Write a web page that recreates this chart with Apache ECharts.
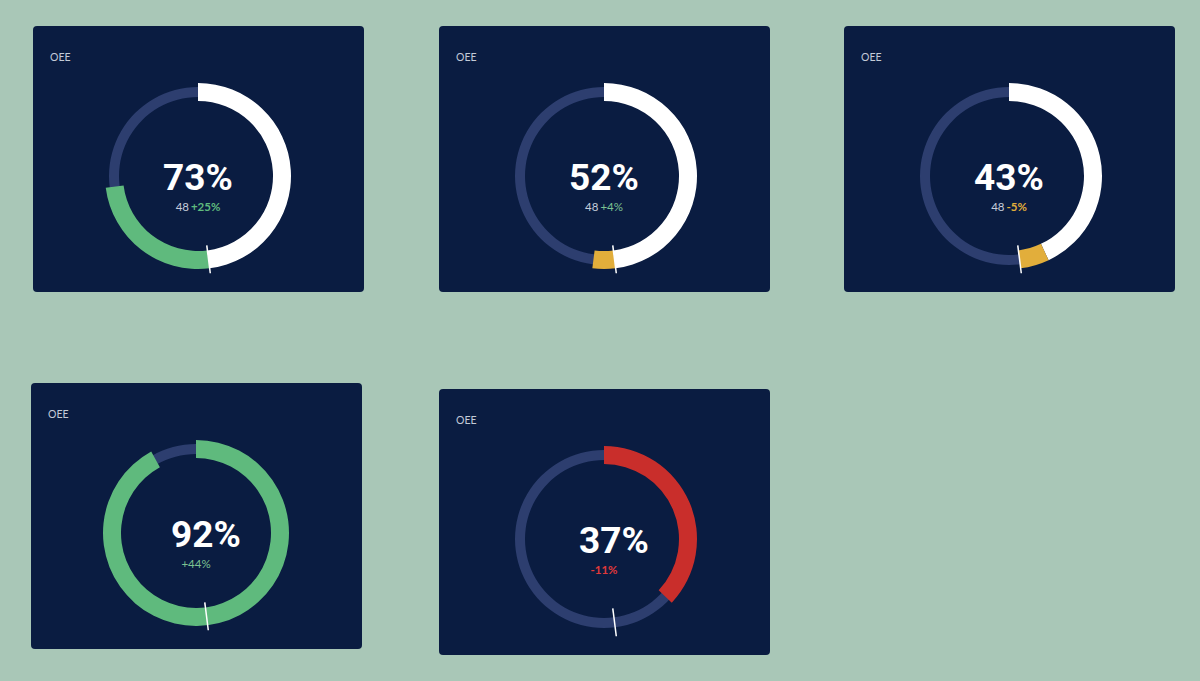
<!DOCTYPE html>
<html>
<head>
<meta charset="utf-8">
<title>OEE</title>
<script src="https://cdn.jsdelivr.net/npm/echarts@6/dist/echarts.min.js"></script>
<style>
  html, body { margin: 0; padding: 0; width: 1200px; height: 681px; overflow: hidden; background: #a9c7b7; }
  .card { position: absolute; width: 331px; height: 266px; background: #0a1c41; border-radius: 4px; overflow: hidden; }
</style>
</head>
<body>
<div class="card" id="card0" style="left:33px;top:26px"></div>
<div class="card" id="card1" style="left:439px;top:26px"></div>
<div class="card" id="card2" style="left:844px;top:26px"></div>
<div class="card" id="card3" style="left:31px;top:383px"></div>
<div class="card" id="card4" style="left:439px;top:389px"></div>
<script>
// data
var titles = ['OEE', 'OEE', 'OEE', 'OEE', 'OEE'];
var oee = [73, 52, 43, 92, 37];
var baseline = [48, 48, 48, 48, 48];
var arcValues = [[48, 25], [48, 4], [43, 5], [92], [37]];
var changeText = ['+25%', '+4%', '-5%', '+44%', '-11%'];
var showBase = [true, true, true, false, false];

// styles
var GREEN = '#5fba7d', YELLOW = '#e2ae3b', RED = '#c92e2b', TRACK = '#2d3e6f';
var arcColors = [['#ffffff', GREEN], ['#ffffff', YELLOW], ['#ffffff', YELLOW], [GREEN], [RED]];
var changeColor = [GREEN, '#7cc292', YELLOW, '#7cc292', '#e0393a'];
var changeWeight = ['bold', 'normal', 'bold', 'normal', 'bold'];
var valueShift = [0, 0, 0, 10, 10];

oee.forEach(function (v, i) {
    var chart = echarts.init(document.getElementById('card' + i), null, { renderer: 'svg' });
    var cx = 165, cy = 150;

    var used = 0;
    var slices = arcValues[i].map(function (x, k) {
        used += x;
        return { value: x, itemStyle: { color: arcColors[i][k] } };
    });
    slices.push({ value: 100 - used, itemStyle: { color: 'transparent' } });

    var sub = (showBase[i] ? '{b|' + baseline[i] + '}' : '') + '{c|' + changeText[i] + '}';

    chart.setOption({
        animation: false,
        polar: { center: [cx, cy], radius: 100 },
        angleAxis: { type: 'value', min: 0, max: 100, startAngle: 90, clockwise: true, show: false },
        radiusAxis: { type: 'value', min: 0, max: 100, show: false },
        graphic: [
            {
                type: 'text', x: 17, y: 31,
                style: { text: titles[i], fill: '#c3cad8', font: 'normal 10.5px Lato', align: 'left', verticalAlign: 'middle' }
            },
            {
                type: 'text', x: cx + valueShift[i], y: cy + 1,
                style: { text: v + '%', fill: '#ffffff', font: 'bold 37px Roboto', align: 'center', verticalAlign: 'middle' }
            },
            {
                type: 'text', x: cx, y: cy + 30,
                style: {
                    text: sub, align: 'center', verticalAlign: 'middle',
                    rich: {
                        b: { fill: '#c6cddb', fontSize: 11.5, fontFamily: 'Lato', fontWeight: 'normal', padding: [0, 2, 0, 0] },
                        c: { fill: changeColor[i], fontSize: 11.5, fontFamily: 'Lato', fontWeight: changeWeight[i] }
                    }
                }
            }
        ],
        series: [
            {
                type: 'pie', silent: true, center: [cx, cy], radius: [79, 89],
                label: { show: false }, labelLine: { show: false },
                itemStyle: { color: TRACK, borderWidth: 0 },
                data: [100]
            },
            {
                type: 'pie', silent: true, center: [cx, cy], radius: [75, 93], startAngle: 90,
                label: { show: false }, labelLine: { show: false },
                itemStyle: { borderWidth: 0 },
                data: slices
            },
            {
                type: 'line', coordinateSystem: 'polar', silent: true, symbol: 'none',
                lineStyle: { color: '#ffffff', width: 1.5 },
                data: [[70, baseline[i]], [98, baseline[i]]]
            }
        ]
    });
});
</script>
</body>
</html>
